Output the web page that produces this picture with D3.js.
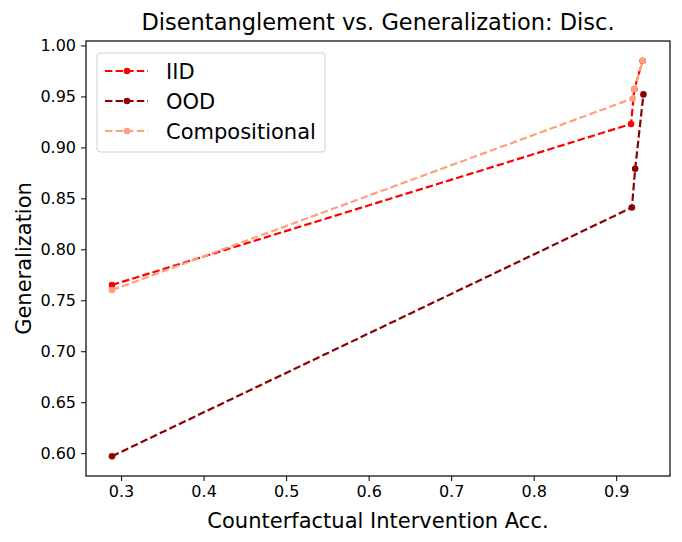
<!DOCTYPE html>
<html>
<head>
<meta charset="utf-8">
<script src="https://cdn.jsdelivr.net/npm/d3@7"></script>
<style>
body{margin:0;background:#fff;}
text{font-family:"DejaVu Sans",sans-serif;}
</style>
</head>
<body>
<script>
var w=682, h=542;
var margin={left:86, right:12, top:41, bottom:66};

var seriesNames = ["IID","OOD","Compositional"];
var seriesColors = ["#ff0000","#8b0000","#ffa07a"];
var iidX = [0.289,0.918,0.922,0.932];
var iidY = [0.765,0.923,0.957,0.985];
var oodX = [0.289,0.919,0.923,0.933];
var oodY = [0.597,0.841,0.879,0.952];
var compX = [0.289,0.920,0.922,0.932];
var compY = [0.760,0.948,0.957,0.985];
var xTicks = [0.3,0.4,0.5,0.6,0.7,0.8,0.9];
var yTicks = [0.60,0.65,0.70,0.75,0.80,0.85,0.90,0.95,1.00];

var series = [
	{name:seriesNames[0], color:seriesColors[0], pts:d3.zip(iidX,iidY)},
	{name:seriesNames[1], color:seriesColors[1], pts:d3.zip(oodX,oodY)},
	{name:seriesNames[2], color:seriesColors[2], pts:d3.zip(compX,compY)}
];

var svg = d3.select("body")
	.append("svg")
		.attr("width",w)
		.attr("height",h);

var x = d3.scaleLinear().domain([0.2575,0.9652]).range([margin.left, w-margin.right]);
var y = d3.scaleLinear().domain([0.5776,1.0044]).range([h-margin.bottom, margin.top]);

// axes
svg.append("g")
	.attr("transform","translate(0,"+(h-margin.bottom)+")")
	.call(d3.axisBottom(x).tickValues(xTicks).tickFormat(d3.format(".1f")).tickSizeOuter(0).tickSize(5).tickPadding(5));
svg.append("g")
	.attr("transform","translate("+margin.left+",0)")
	.call(d3.axisLeft(y).tickValues(yTicks).tickFormat(d3.format(".2f")).tickSizeOuter(0).tickSize(5).tickPadding(5));
svg.selectAll(".tick text").style("font-size","16px").attr("fill","#000");
svg.selectAll(".tick line").attr("stroke","#000").attr("stroke-width",1);
svg.selectAll(".domain").remove();

// frame
svg.append("rect")
	.attr("x",margin.left).attr("y",margin.top)
	.attr("width",w-margin.left-margin.right)
	.attr("height",h-margin.top-margin.bottom)
	.attr("fill","none").attr("stroke","#000").attr("stroke-width",1.2);

var line = d3.line()
	.x(function(d){return x(d[0]);})
	.y(function(d){return y(d[1]);});

series.forEach(function(s){
	var g = svg.append("g");
	g.append("path")
		.attr("d", line(s.pts))
		.attr("fill","none")
		.attr("stroke", s.color)
		.attr("stroke-width",2.2)
		.attr("stroke-dasharray","7.4,3.2");
	g.selectAll("circle")
		.data(s.pts)
		.enter()
		.append("circle")
			.attr("cx",function(d){return x(d[0]);})
			.attr("cy",function(d){return y(d[1]);})
			.attr("r",3.3)
			.attr("fill",s.color);
});

// title and labels
svg.append("text")
	.attr("x",(margin.left+w-margin.right)/2).attr("y",30)
	.attr("text-anchor","middle")
	.style("font-size","22.5px")
	.text("Disentanglement vs. Generalization: Disc.");
svg.append("text")
	.attr("x",(margin.left+w-margin.right)/2).attr("y",528)
	.attr("text-anchor","middle")
	.style("font-size","21px")
	.text("Counterfactual Intervention Acc.");
svg.append("text")
	.attr("transform","translate(31,"+((margin.top+h-margin.bottom)/2)+") rotate(-90)")
	.attr("text-anchor","middle")
	.style("font-size","21px")
	.text("Generalization");

// legend
var lg = svg.append("g").attr("transform","translate(97,53)");
lg.append("rect")
	.attr("width",228).attr("height",99)
	.attr("rx",3)
	.attr("fill","#fff").attr("fill-opacity",0.8)
	.attr("stroke","#d0d0d0").attr("stroke-width",1);
series.forEach(function(s,i){
	var yy = 18 + i*30;
	lg.append("line")
		.attr("x1",8).attr("x2",51).attr("y1",yy).attr("y2",yy)
		.attr("stroke",s.color).attr("stroke-width",2.2)
		.attr("stroke-dasharray","7.4,3.2");
	lg.append("circle").attr("cx",30).attr("cy",yy).attr("r",3.3).attr("fill",s.color);
	lg.append("text")
		.attr("x",69).attr("y",yy+7.5)
		.style("font-size","21px")
		.text(s.name);
});
</script>
</body>
</html>
